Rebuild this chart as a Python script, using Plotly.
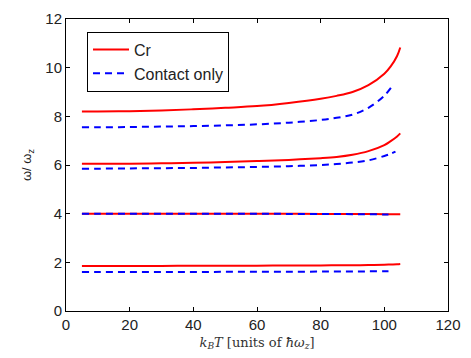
import plotly.graph_objects as go

# Temperature grid (k_B T in units of hbar*omega_z)
x_red = [5, 10, 20, 30, 40, 50, 60, 70, 80, 85, 90, 95, 100, 102, 104, 105]
x_blue = [5, 10, 20, 30, 40, 50, 60, 70, 80, 85, 90, 95, 100, 102.5]
x_blue2 = [5, 10, 20, 30, 40, 50, 60, 70, 80, 85, 90, 95, 100, 102, 103.5]

# Cr (full interaction) modes
cr_mode1 = [1.85, 1.85, 1.85, 1.85, 1.86, 1.86, 1.86, 1.87, 1.87, 1.88, 1.88, 1.89, 1.90, 1.91, 1.92, 1.93]
cr_mode2 = [4.00, 4.00, 4.00, 4.00, 4.00, 4.00, 4.00, 4.00, 3.99, 3.99, 3.99, 3.99, 3.98, 3.98, 3.98, 3.98]
cr_mode3 = [6.05, 6.05, 6.05, 6.07, 6.09, 6.12, 6.16, 6.21, 6.28, 6.33, 6.42, 6.57, 6.82, 6.98, 7.17, 7.30]
cr_mode4 = [8.20, 8.20, 8.21, 8.24, 8.29, 8.35, 8.42, 8.55, 8.72, 8.84, 9.00, 9.28, 9.75, 10.05, 10.48, 10.83]

# Contact-only modes
co_mode1 = [1.60, 1.60, 1.60, 1.60, 1.60, 1.61, 1.61, 1.61, 1.62, 1.62, 1.62, 1.63, 1.63, 1.64]
co_mode2 = [4.00, 4.00, 4.00, 4.00, 4.00, 4.00, 4.00, 3.99, 3.99, 3.99, 3.98, 3.98, 3.97, 3.97]
co_mode3 = [5.85, 5.85, 5.86, 5.87, 5.88, 5.90, 5.92, 5.95, 6.00, 6.04, 6.10, 6.19, 6.37, 6.46, 6.55]
co_mode4 = [7.55, 7.55, 7.56, 7.58, 7.60, 7.63, 7.67, 7.74, 7.85, 7.94, 8.07, 8.35, 8.85, 9.25]

x_ticks = [0, 20, 40, 60, 80, 100, 120]
y_ticks = [0, 2, 4, 6, 8, 10, 12]

fig = go.Figure()

red = dict(color="#ff0000", width=2)
blue = dict(color="#0000ff", width=2, dash="7px,5px")

for i, y in enumerate([cr_mode1, cr_mode2, cr_mode3, cr_mode4]):
    fig.add_trace(go.Scatter(x=x_red, y=y, mode="lines", line=red, line_shape="spline",
                             name="Cr", legendgroup="cr", showlegend=(i == 0)))

for i, (xx, y) in enumerate([(x_blue, co_mode1), (x_blue, co_mode2), (x_blue2, co_mode3), (x_blue, co_mode4)]):
    fig.add_trace(go.Scatter(x=xx, y=y, mode="lines", line=blue, line_shape="spline",
                             name="Contact only", legendgroup="co", showlegend=(i == 0)))

axis_common = dict(showline=True, linecolor="black", linewidth=1, mirror="ticks",
                   ticks="inside", ticklen=4, tickcolor="black", showgrid=False,
                   zeroline=False, tickfont=dict(family="Liberation Sans, Arial", size=15, color="#222"))

fig.update_xaxes(range=[0, 120], tickvals=x_ticks, **axis_common,
                 title=dict(text="<i>k<sub>B</sub>T</i> [units of <i>ħω<sub>z</sub></i>]",
                            font=dict(family="DejaVu Serif, Liberation Serif", size=13, color="#333"),
                            standoff=5))
fig.update_yaxes(range=[0, 12], tickvals=y_ticks, **axis_common,
                 title=dict(text="ω/ ω<sub>z</sub>",
                            font=dict(family="Liberation Sans, Arial", size=13, color="#222"),
                            standoff=10))

fig.update_layout(
    width=471, height=358,
    margin=dict(l=66, r=22, t=10, b=47),
    paper_bgcolor="white", plot_bgcolor="white",
    showlegend=True,
    legend=dict(x=0.055, y=0.957, xanchor="left", yanchor="top",
                bordercolor="black", borderwidth=1, bgcolor="white",
                font=dict(family="Liberation Sans, Arial", size=16, color="#222"),
                tracegroupgap=0, itemwidth=36),
)

fig.write_html("out.html")
